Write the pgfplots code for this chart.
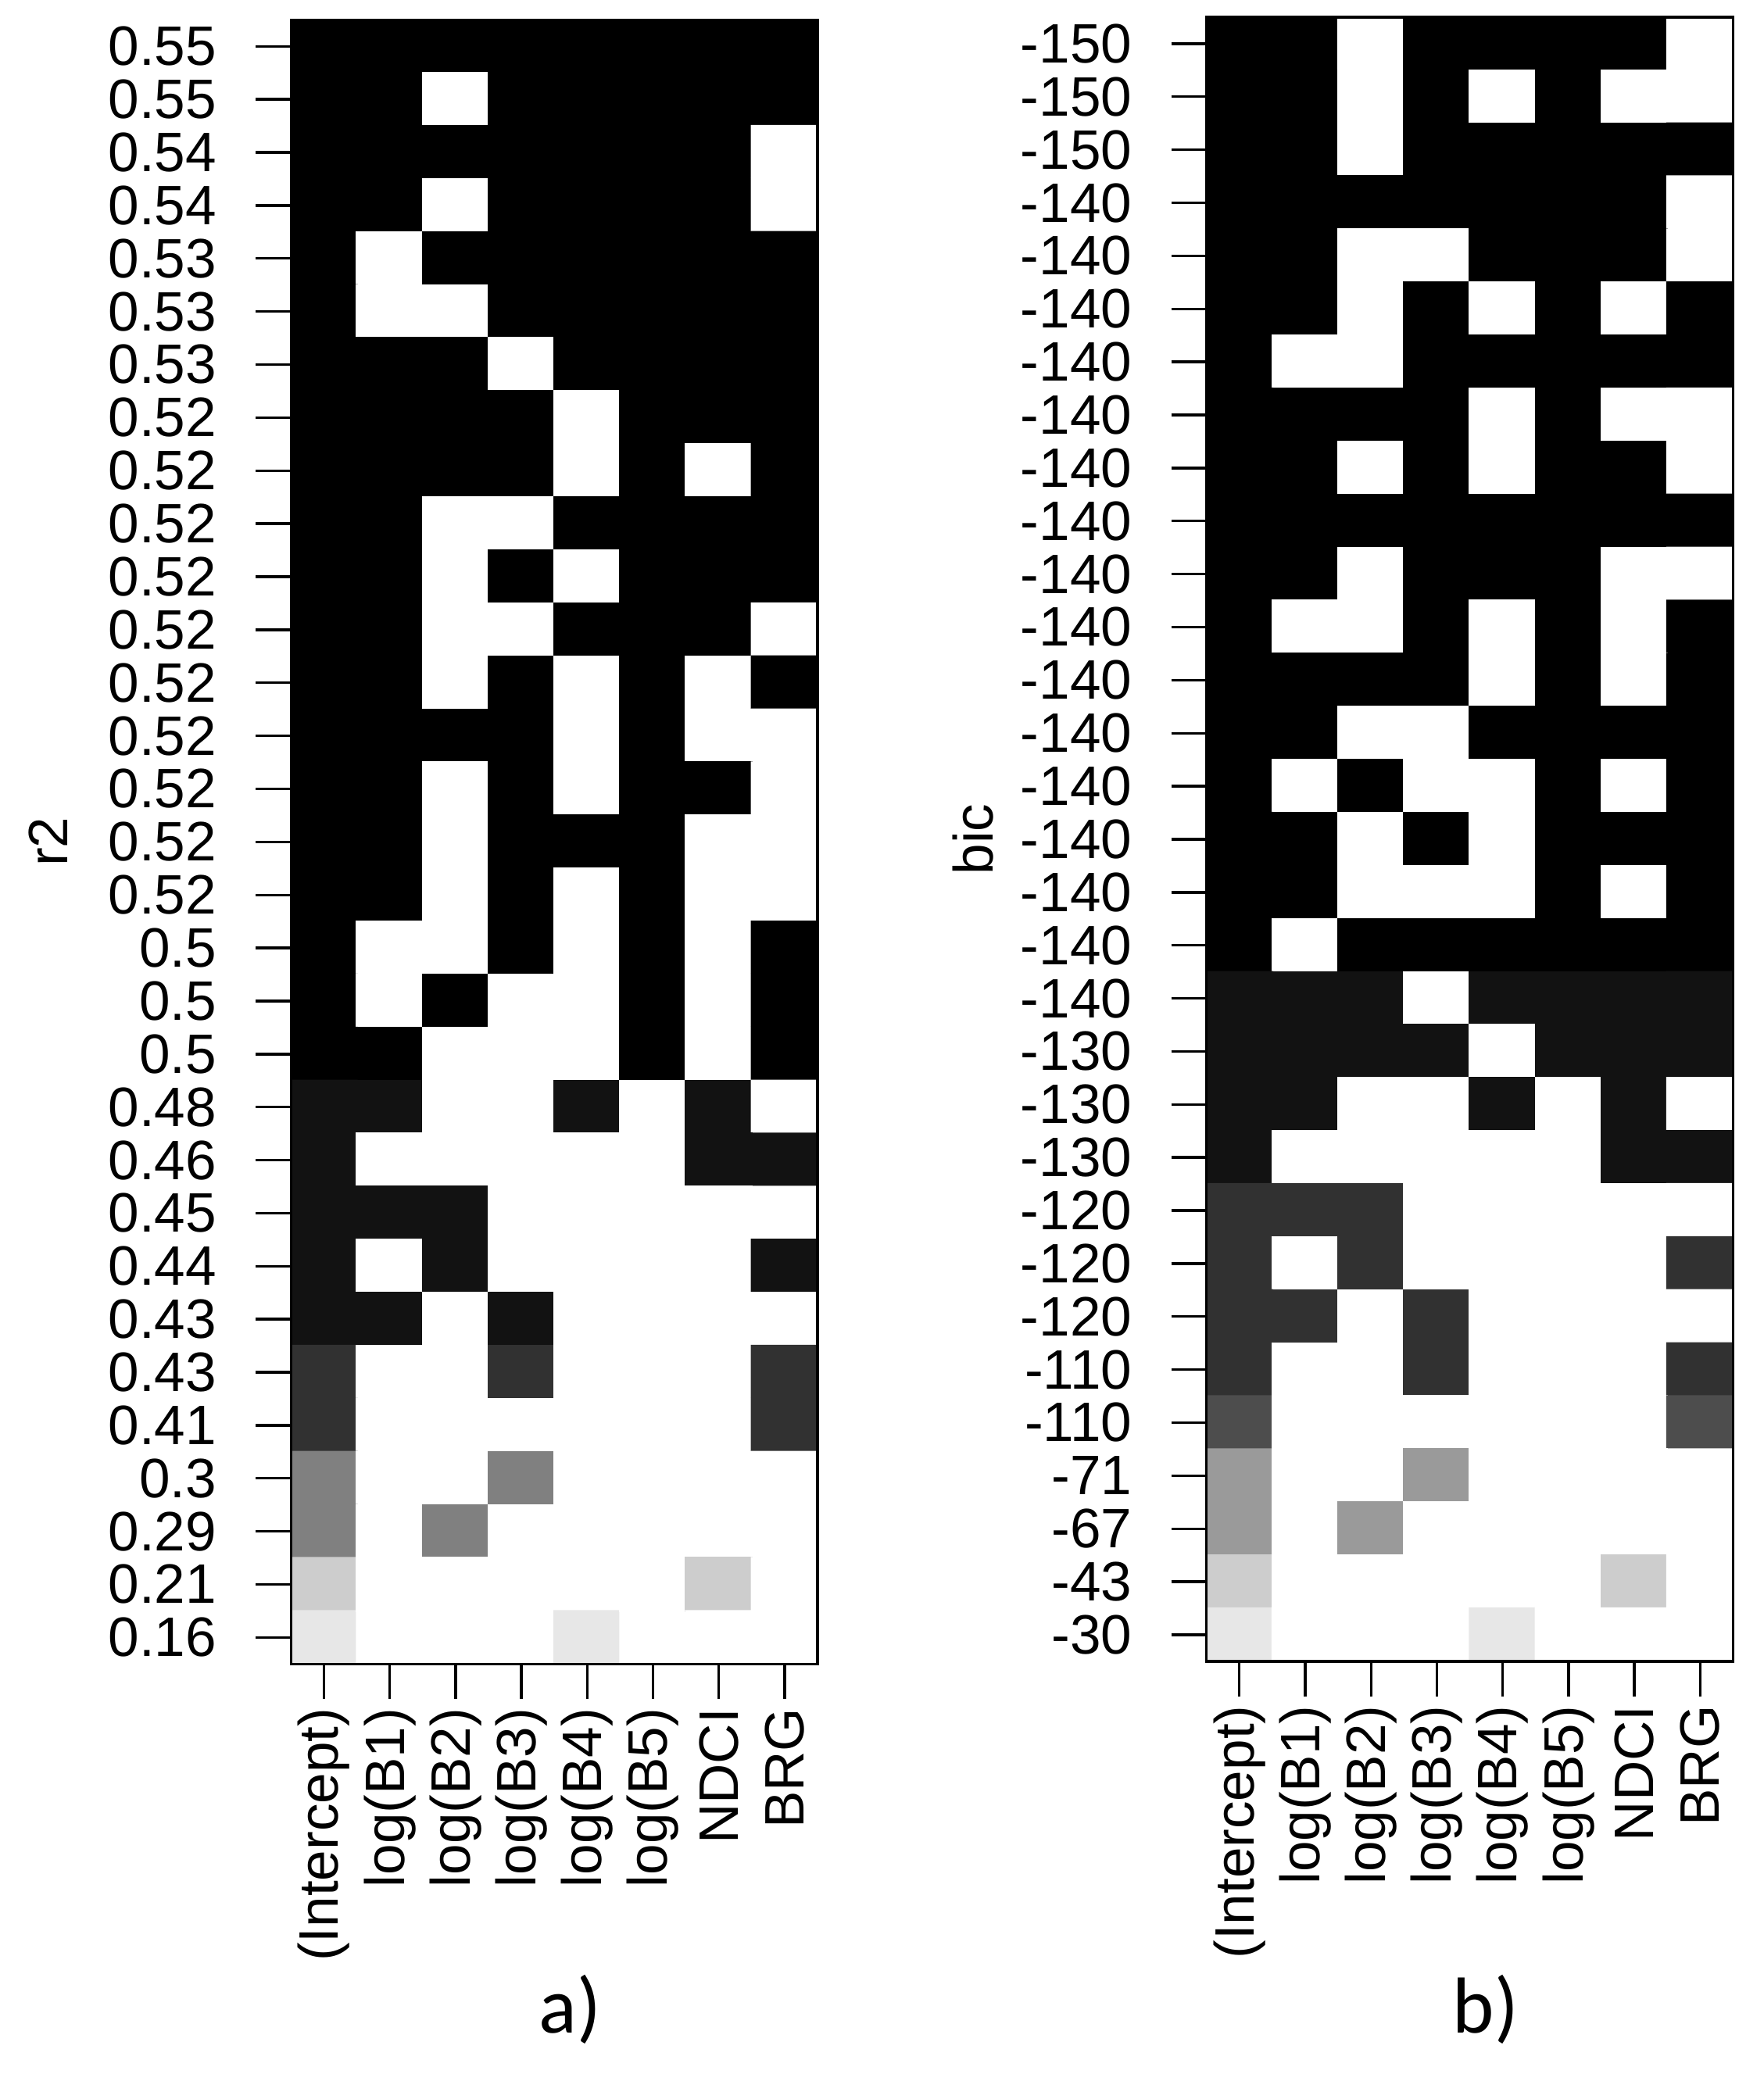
\documentclass[border=0pt]{standalone}
\usepackage{pgfplots}
\pgfplotsset{compat=1.18}
\usepackage{fontspec}
\setmainfont{Liberation Sans}
\newfontfamily\calibri{Carlito}

% one cell per model and variable: 0 = black, 1 = white (variable not in the model)
\pgfplotsset{
  leaps/.style={
    scale only axis, width=119.4pt, height=372.9pt,
    xmin=0.5, xmax=8.5, ymin=0.5, ymax=31.5, y dir=reverse,
    xtick={1,...,8}, ytick={1,...,31},
    xticklabels={(Intercept),log(B1),log(B2),log(B3),log(B4),log(B5),NDCI,BRG},
    tick pos=left, tick align=outside, major tick length=8pt,
    major tick style={black, line width=0.6pt},
    axis line style={line width=0.6pt},
    colormap={bw}{gray(0cm)=(0); gray(1cm)=(1)},
    point meta min=0, point meta max=1,
    clip mode=individual,
    tick label style={font=\fontsize{12.6}{14}\selectfont},
    x tick label style={rotate=90, anchor=east, xshift=1.5pt},
    yticklabel style={anchor=east, xshift=-5.4pt},
  },
}

\begin{document}
\begin{tikzpicture}
\path[use as bounding box] (0,0) rectangle (399.9pt,470.4pt);

\begin{axis}[leaps, at={(66pt,93pt)}, anchor=south west,
  yticklabels={0.55,0.55,0.54,0.54,0.53,0.53,0.53,0.52,0.52,0.52,0.52,0.52,0.52,0.52,0.52,0.52,0.52,0.5,0.5,0.5,0.48,0.46,0.45,0.44,0.43,0.43,0.41,0.3,0.29,0.21,0.16},
  ylabel={r2},
  every axis y label/.style={at={(axis description cs:0,0.5)}, xshift=-55pt, rotate=90, anchor=center, font=\fontsize{12.6}{14}\selectfont}]
\addplot[matrix plot, mesh/cols=8, point meta=explicit] coordinates {
(1,1)[0] (2,1)[0] (3,1)[0] (4,1)[0] (5,1)[0] (6,1)[0] (7,1)[0] (8,1)[0]
(1,2)[0] (2,2)[0] (3,2)[1] (4,2)[0] (5,2)[0] (6,2)[0] (7,2)[0] (8,2)[0]
(1,3)[0] (2,3)[0] (3,3)[0] (4,3)[0] (5,3)[0] (6,3)[0] (7,3)[0] (8,3)[1]
(1,4)[0] (2,4)[0] (3,4)[1] (4,4)[0] (5,4)[0] (6,4)[0] (7,4)[0] (8,4)[1]
(1,5)[0] (2,5)[1] (3,5)[0] (4,5)[0] (5,5)[0] (6,5)[0] (7,5)[0] (8,5)[0]
(1,6)[0] (2,6)[1] (3,6)[1] (4,6)[0] (5,6)[0] (6,6)[0] (7,6)[0] (8,6)[0]
(1,7)[0] (2,7)[0] (3,7)[0] (4,7)[1] (5,7)[0] (6,7)[0] (7,7)[0] (8,7)[0]
(1,8)[0] (2,8)[0] (3,8)[0] (4,8)[0] (5,8)[1] (6,8)[0] (7,8)[0] (8,8)[0]
(1,9)[0] (2,9)[0] (3,9)[0] (4,9)[0] (5,9)[1] (6,9)[0] (7,9)[1] (8,9)[0]
(1,10)[0] (2,10)[0] (3,10)[1] (4,10)[1] (5,10)[0] (6,10)[0] (7,10)[0] (8,10)[0]
(1,11)[0] (2,11)[0] (3,11)[1] (4,11)[0] (5,11)[1] (6,11)[0] (7,11)[0] (8,11)[0]
(1,12)[0] (2,12)[0] (3,12)[1] (4,12)[1] (5,12)[0] (6,12)[0] (7,12)[0] (8,12)[1]
(1,13)[0] (2,13)[0] (3,13)[1] (4,13)[0] (5,13)[1] (6,13)[0] (7,13)[1] (8,13)[0]
(1,14)[0] (2,14)[0] (3,14)[0] (4,14)[0] (5,14)[1] (6,14)[0] (7,14)[1] (8,14)[1]
(1,15)[0] (2,15)[0] (3,15)[1] (4,15)[0] (5,15)[1] (6,15)[0] (7,15)[0] (8,15)[1]
(1,16)[0] (2,16)[0] (3,16)[1] (4,16)[0] (5,16)[0] (6,16)[0] (7,16)[1] (8,16)[1]
(1,17)[0] (2,17)[0] (3,17)[1] (4,17)[0] (5,17)[1] (6,17)[0] (7,17)[1] (8,17)[1]
(1,18)[0] (2,18)[1] (3,18)[1] (4,18)[0] (5,18)[1] (6,18)[0] (7,18)[1] (8,18)[0]
(1,19)[0] (2,19)[1] (3,19)[0] (4,19)[1] (5,19)[1] (6,19)[0] (7,19)[1] (8,19)[0]
(1,20)[0] (2,20)[0] (3,20)[1] (4,20)[1] (5,20)[1] (6,20)[0] (7,20)[1] (8,20)[0]
(1,21)[0.07] (2,21)[0.07] (3,21)[1] (4,21)[1] (5,21)[0.07] (6,21)[1] (7,21)[0.07] (8,21)[1]
(1,22)[0.07] (2,22)[1] (3,22)[1] (4,22)[1] (5,22)[1] (6,22)[1] (7,22)[0.07] (8,22)[0.07]
(1,23)[0.07] (2,23)[0.07] (3,23)[0.07] (4,23)[1] (5,23)[1] (6,23)[1] (7,23)[1] (8,23)[1]
(1,24)[0.07] (2,24)[1] (3,24)[0.07] (4,24)[1] (5,24)[1] (6,24)[1] (7,24)[1] (8,24)[0.07]
(1,25)[0.07] (2,25)[0.07] (3,25)[1] (4,25)[0.07] (5,25)[1] (6,25)[1] (7,25)[1] (8,25)[1]
(1,26)[0.19] (2,26)[1] (3,26)[1] (4,26)[0.19] (5,26)[1] (6,26)[1] (7,26)[1] (8,26)[0.19]
(1,27)[0.19] (2,27)[1] (3,27)[1] (4,27)[1] (5,27)[1] (6,27)[1] (7,27)[1] (8,27)[0.19]
(1,28)[0.5] (2,28)[1] (3,28)[1] (4,28)[0.5] (5,28)[1] (6,28)[1] (7,28)[1] (8,28)[1]
(1,29)[0.5] (2,29)[1] (3,29)[0.5] (4,29)[1] (5,29)[1] (6,29)[1] (7,29)[1] (8,29)[1]
(1,30)[0.8] (2,30)[1] (3,30)[1] (4,30)[1] (5,30)[1] (6,30)[1] (7,30)[0.8] (8,30)[1]
(1,31)[0.9] (2,31)[1] (3,31)[1] (4,31)[1] (5,31)[0.9] (6,31)[1] (7,31)[1] (8,31)[1]
};
\end{axis}

\begin{axis}[leaps, at={(273.6pt,93.6pt)}, anchor=south west,
  yticklabels={-150,-150,-150,-140,-140,-140,-140,-140,-140,-140,-140,-140,-140,-140,-140,-140,-140,-140,-140,-130,-130,-130,-120,-120,-120,-110,-110,-71,-67,-43,-30},
  ylabel={bic},
  every axis y label/.style={at={(axis description cs:0,0.5)}, xshift=-53pt, rotate=90, anchor=center, font=\fontsize{12.6}{14}\selectfont}]
\addplot[matrix plot, mesh/cols=8, point meta=explicit] coordinates {
(1,1)[0] (2,1)[0] (3,1)[1] (4,1)[0] (5,1)[0] (6,1)[0] (7,1)[0] (8,1)[1]
(1,2)[0] (2,2)[0] (3,2)[1] (4,2)[0] (5,2)[1] (6,2)[0] (7,2)[1] (8,2)[1]
(1,3)[0] (2,3)[0] (3,3)[1] (4,3)[0] (5,3)[0] (6,3)[0] (7,3)[0] (8,3)[0]
(1,4)[0] (2,4)[0] (3,4)[0] (4,4)[0] (5,4)[0] (6,4)[0] (7,4)[0] (8,4)[1]
(1,5)[0] (2,5)[0] (3,5)[1] (4,5)[1] (5,5)[0] (6,5)[0] (7,5)[0] (8,5)[1]
(1,6)[0] (2,6)[0] (3,6)[1] (4,6)[0] (5,6)[1] (6,6)[0] (7,6)[1] (8,6)[0]
(1,7)[0] (2,7)[1] (3,7)[1] (4,7)[0] (5,7)[0] (6,7)[0] (7,7)[0] (8,7)[0]
(1,8)[0] (2,8)[0] (3,8)[0] (4,8)[0] (5,8)[1] (6,8)[0] (7,8)[1] (8,8)[1]
(1,9)[0] (2,9)[0] (3,9)[1] (4,9)[0] (5,9)[1] (6,9)[0] (7,9)[0] (8,9)[1]
(1,10)[0] (2,10)[0] (3,10)[0] (4,10)[0] (5,10)[0] (6,10)[0] (7,10)[0] (8,10)[0]
(1,11)[0] (2,11)[0] (3,11)[1] (4,11)[0] (5,11)[0] (6,11)[0] (7,11)[1] (8,11)[1]
(1,12)[0] (2,12)[1] (3,12)[1] (4,12)[0] (5,12)[1] (6,12)[0] (7,12)[1] (8,12)[0]
(1,13)[0] (2,13)[0] (3,13)[0] (4,13)[0] (5,13)[1] (6,13)[0] (7,13)[1] (8,13)[0]
(1,14)[0] (2,14)[0] (3,14)[1] (4,14)[1] (5,14)[0] (6,14)[0] (7,14)[0] (8,14)[0]
(1,15)[0] (2,15)[1] (3,15)[0] (4,15)[1] (5,15)[1] (6,15)[0] (7,15)[1] (8,15)[0]
(1,16)[0] (2,16)[0] (3,16)[1] (4,16)[0] (5,16)[1] (6,16)[0] (7,16)[0] (8,16)[0]
(1,17)[0] (2,17)[0] (3,17)[1] (4,17)[1] (5,17)[1] (6,17)[0] (7,17)[1] (8,17)[0]
(1,18)[0] (2,18)[1] (3,18)[0] (4,18)[0] (5,18)[0] (6,18)[0] (7,18)[0] (8,18)[0]
(1,19)[0.07] (2,19)[0.07] (3,19)[0.07] (4,19)[1] (5,19)[0.07] (6,19)[0.07] (7,19)[0.07] (8,19)[0.07]
(1,20)[0.07] (2,20)[0.07] (3,20)[0.07] (4,20)[0.07] (5,20)[1] (6,20)[0.07] (7,20)[0.07] (8,20)[0.07]
(1,21)[0.07] (2,21)[0.07] (3,21)[1] (4,21)[1] (5,21)[0.07] (6,21)[1] (7,21)[0.07] (8,21)[1]
(1,22)[0.07] (2,22)[1] (3,22)[1] (4,22)[1] (5,22)[1] (6,22)[1] (7,22)[0.07] (8,22)[0.07]
(1,23)[0.19] (2,23)[0.19] (3,23)[0.19] (4,23)[1] (5,23)[1] (6,23)[1] (7,23)[1] (8,23)[1]
(1,24)[0.19] (2,24)[1] (3,24)[0.19] (4,24)[1] (5,24)[1] (6,24)[1] (7,24)[1] (8,24)[0.19]
(1,25)[0.19] (2,25)[0.19] (3,25)[1] (4,25)[0.19] (5,25)[1] (6,25)[1] (7,25)[1] (8,25)[1]
(1,26)[0.19] (2,26)[1] (3,26)[1] (4,26)[0.19] (5,26)[1] (6,26)[1] (7,26)[1] (8,26)[0.19]
(1,27)[0.3] (2,27)[1] (3,27)[1] (4,27)[1] (5,27)[1] (6,27)[1] (7,27)[1] (8,27)[0.3]
(1,28)[0.6] (2,28)[1] (3,28)[1] (4,28)[0.6] (5,28)[1] (6,28)[1] (7,28)[1] (8,28)[1]
(1,29)[0.6] (2,29)[1] (3,29)[0.6] (4,29)[1] (5,29)[1] (6,29)[1] (7,29)[1] (8,29)[1]
(1,30)[0.8] (2,30)[1] (3,30)[1] (4,30)[1] (5,30)[1] (6,30)[1] (7,30)[0.8] (8,30)[1]
(1,31)[0.9] (2,31)[1] (3,31)[1] (4,31)[1] (5,31)[0.9] (6,31)[1] (7,31)[1] (8,31)[1]
};
\end{axis}

% panel captions below the two plots
\node[font=\calibri\fontsize{18}{20}\selectfont, anchor=base] at (129.3pt,9.3pt) {a)};
\node[font=\calibri\fontsize{18}{20}\selectfont, anchor=base] at (336.9pt,9.3pt) {b)};
\end{tikzpicture}
\end{document}
